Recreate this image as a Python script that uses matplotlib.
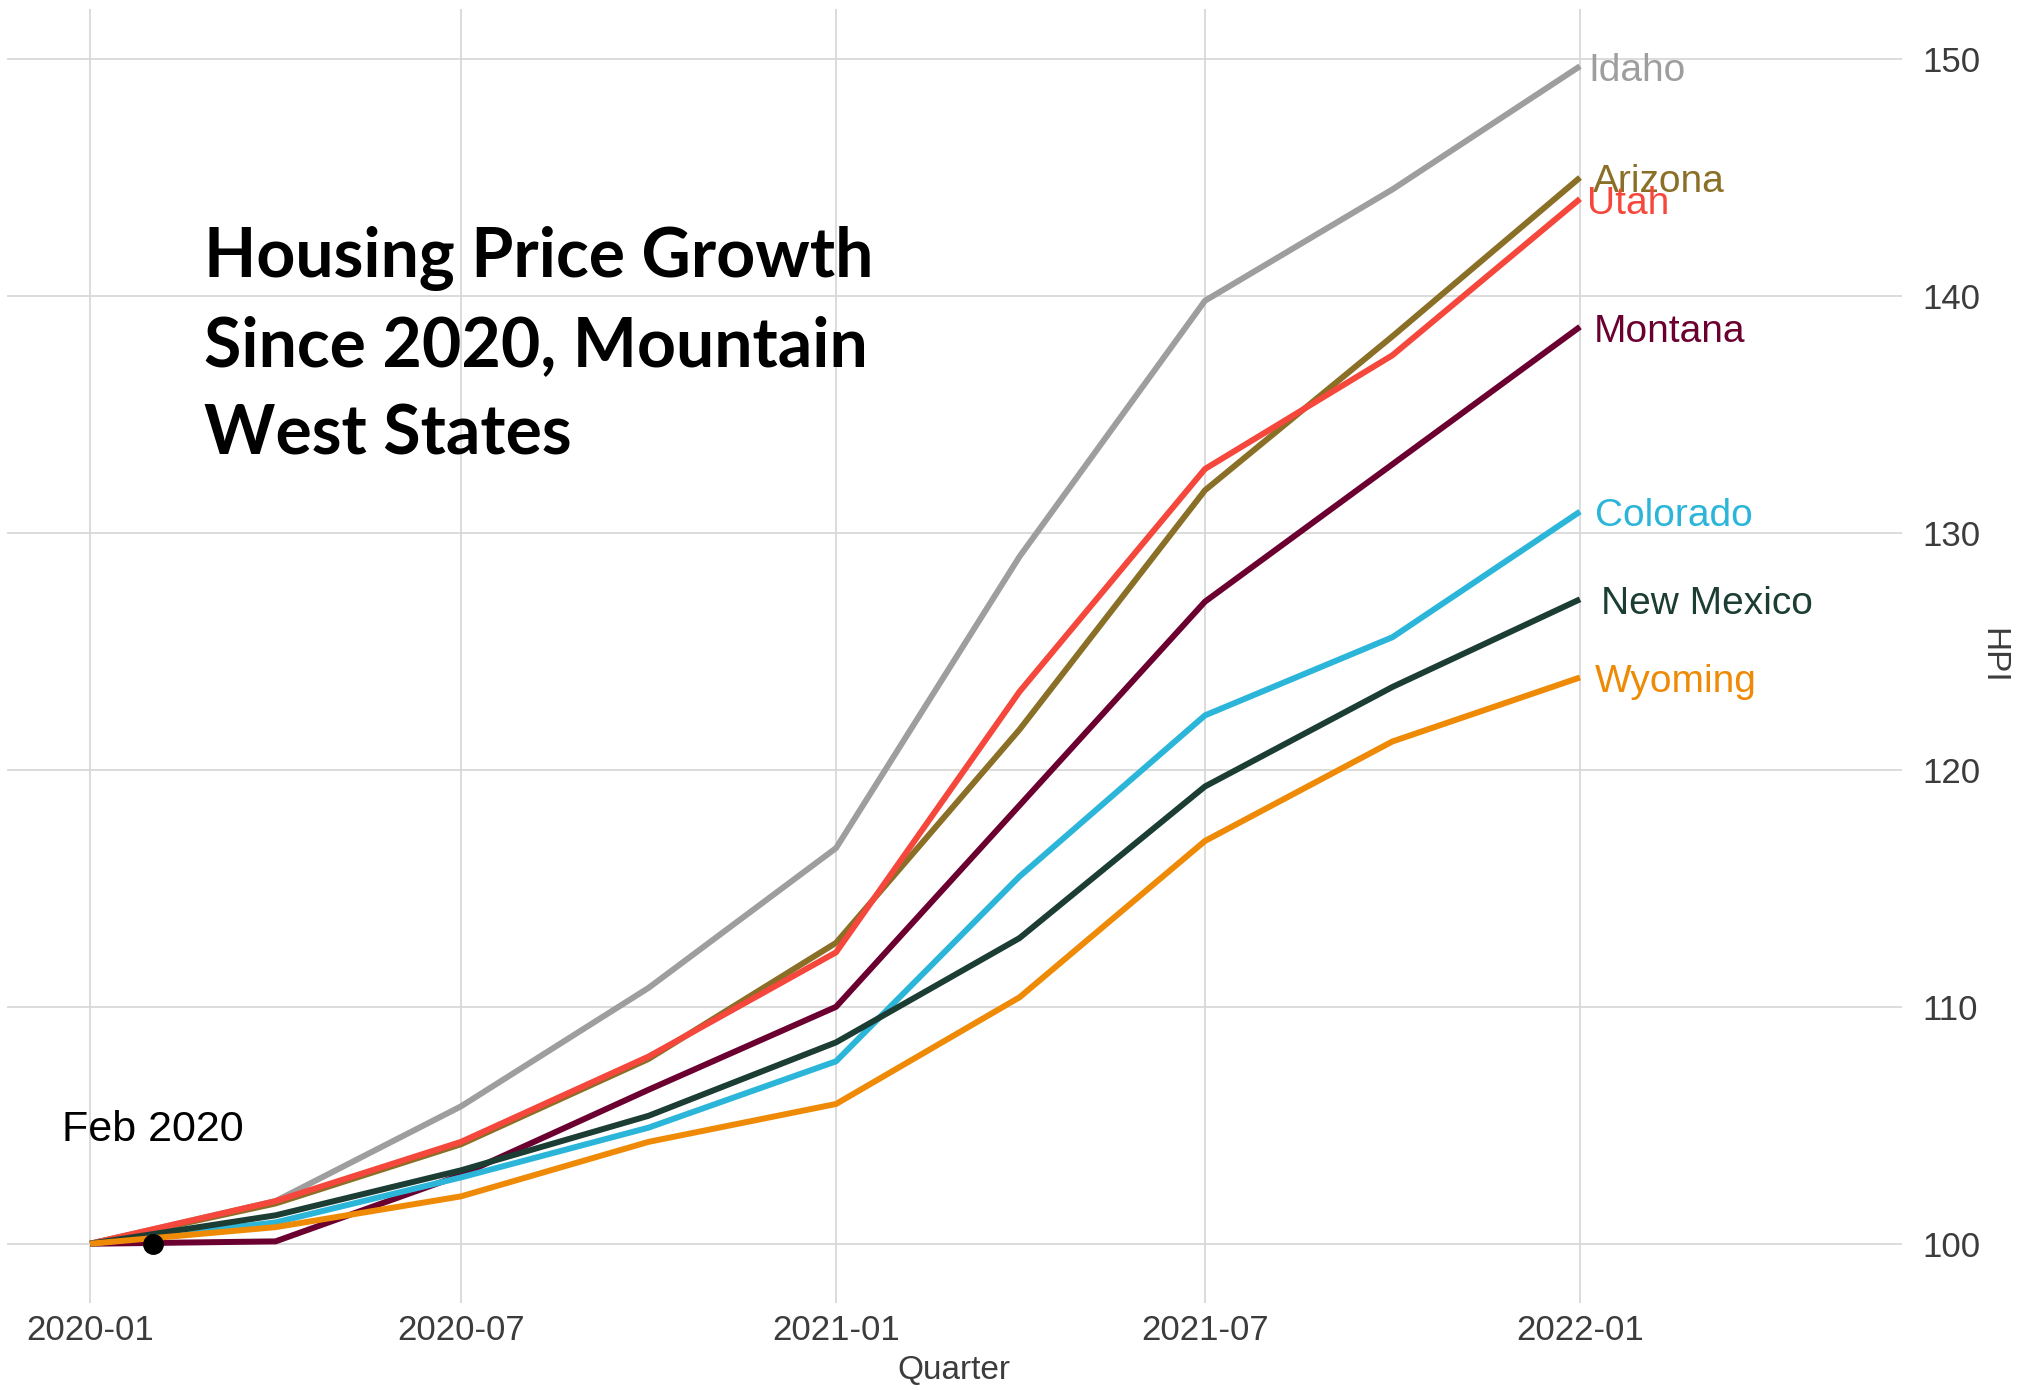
import matplotlib
matplotlib.use("Agg")
import matplotlib.pyplot as plt
import matplotlib.dates as mdates
import pandas as pd

plt.rcParams['font.family'] = ['Liberation Sans', 'DejaVu Sans']

# quarterly HPI, indexed to 100 at 2020-01
quarters = pd.to_datetime([
    "2020-01-01", "2020-04-01", "2020-07-01", "2020-10-01", "2021-01-01",
    "2021-04-01", "2021-07-01", "2021-10-01", "2022-01-01",
])
states = ["Idaho", "Arizona", "Utah", "Montana", "Colorado", "New Mexico", "Wyoming"]
idaho = [100, 101.8, 105.8, 110.8, 116.7, 129.0, 139.8, 144.5, 149.7]
arizona = [100, 101.7, 104.2, 107.8, 112.7, 121.7, 131.8, 138.3, 145.0]
utah = [100, 101.8, 104.3, 107.9, 112.3, 123.3, 132.7, 137.5, 144.1]
montana = [100, 100.1, 102.9, 106.5, 110.0, 118.5, 127.1, 132.9, 138.7]
colorado = [100, 100.9, 102.8, 104.9, 107.7, 115.5, 122.3, 125.6, 130.9]
new_mexico = [100, 101.2, 103.1, 105.4, 108.5, 112.9, 119.3, 123.5, 127.2]
wyoming = [100, 100.7, 102.0, 104.3, 105.9, 110.4, 117.0, 121.2, 123.9]
series = [idaho, arizona, utah, montana, colorado, new_mexico, wyoming]

colors = ["#9E9E9E", "#8A6F27", "#F5473B", "#6B0030", "#2BB6D9", "#1B3D33", "#EE8A05"]
label_dx = [6, 9, 5, 10, 11, 15, 11]  # pixel nudges for end labels

marker_date = pd.Timestamp("2020-02-01")
marker_value = 100

fig = plt.figure(figsize=(20.36, 13.9), dpi=100)
ax = fig.add_axes([0.0032, 0.0626, 0.931, 0.9307])

for name, vals, col, dx in zip(states, series, colors, label_dx):
    ax.plot(quarters, vals, color=col, lw=4.3, solid_capstyle='butt', zorder=3)
    ax.annotate(name, (quarters[-1], vals[-1]), xytext=(dx, -3.5), textcoords='offset points',
                ha='left', va='center', fontsize=28, color=col, zorder=4)

ax.plot([marker_date], [marker_value], 'o', color='black', markersize=14, zorder=5)
ax.text(marker_date, 104.8, "Feb 2020", ha='center', va='center', fontsize=31, color='black')

title_lines = ["Housing Price Growth", "Since 2020, Mountain", "West States"]
for i, line in enumerate(title_lines):
    ax.text(0.1042, 0.7931 - i * 0.0688, line, transform=ax.transAxes, ha='left', va='baseline',
            fontsize=49, fontweight='bold', family=['Lato', 'DejaVu Sans'], color='black')

ax.set_xlim(pd.Timestamp("2020-01-01") - pd.Timedelta(days=41),
            pd.Timestamp("2022-01-01") + pd.Timedelta(days=158))
ax.set_ylim(97.5, 152.1)

ax.set_xticks(pd.to_datetime(["2020-01-01", "2020-07-01", "2021-01-01", "2021-07-01", "2022-01-01"]))
ax.xaxis.set_major_formatter(mdates.DateFormatter("%Y-%m"))
ax.set_yticks([100, 110, 120, 130, 140, 150])
ax.yaxis.tick_right()
ax.yaxis.set_label_position('right')
ax.tick_params(axis='both', length=0, labelsize=25, labelcolor='#3C3C3C')
ax.tick_params(axis='y', pad=14.5)
ax.tick_params(axis='x', pad=8)

ax.set_xlabel("Quarter", fontsize=24, color='#3C3C3C', labelpad=6)
ax.set_ylabel("HPI", fontsize=24, color='#3C3C3C', rotation=270, labelpad=20)

ax.grid(True, color='#D6D6D6', lw=1.2)
ax.set_axisbelow(True)
for s in ax.spines.values():
    s.set_visible(False)

fig.savefig("out.png", dpi=100, facecolor='white')
